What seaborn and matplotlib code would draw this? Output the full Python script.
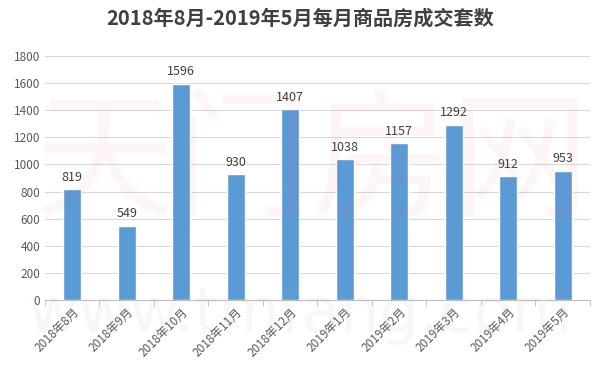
import matplotlib
matplotlib.use('Agg')
import matplotlib.pyplot as plt
import seaborn as sns
import pandas as pd

months = ['2018年8月', '2018年9月', '2018年10月', '2018年11月', '2018年12月',
          '2019年1月', '2019年2月', '2019年3月', '2019年4月', '2019年5月']
sales = [819, 549, 1596, 930, 1407, 1038, 1157, 1292, 912, 953]
yticks = [0, 200, 400, 600, 800, 1000, 1200, 1400, 1600, 1800]

sns.set_style('white')
plt.rcParams['font.family'] = ['Noto Sans CJK SC', 'DejaVu Sans']

df = pd.DataFrame({'month': months, 'sales': sales})

fig = plt.figure(figsize=(6, 3.8), dpi=100)
ax = fig.add_axes([0.075, 0.21, 0.908, 0.643])

# faint site watermarks behind the chart
fig.text(0.52, 0.56, '天门房网', fontsize=100, color='#e8413c', alpha=0.045,
         ha='center', va='center')
fig.text(0.5, 0.17, 'www.tmfang.com', fontsize=45, color='#999999', alpha=0.07,
         ha='center', va='center', family='DejaVu Sans')

sns.barplot(data=df, x='month', y='sales', color='#5b9bd5', saturation=1,
            width=0.33, ax=ax, zorder=3)

for i, v in enumerate(sales):
    ax.text(i, v + 40, str(v), ha='center', va='bottom', fontsize=9, color='#404040')

ax.set_ylim(0, 1800)
ax.set_yticks(yticks)
ax.yaxis.grid(True, color='#d9d9d9', linewidth=0.8, zorder=0)
ax.set_axisbelow(True)
ax.set_xlim(-0.5, len(months) - 0.5)
ax.set_xlabel('')
ax.set_ylabel('')

for s in ['top', 'right', 'left']:
    ax.spines[s].set_visible(False)
ax.spines['bottom'].set_color('#bfbfbf')

ax.set_xticks([i + 0.5 for i in range(-1, len(months))], minor=True)
ax.tick_params(axis='x', which='minor', length=4, color='#bfbfbf', bottom=True)
ax.tick_params(axis='x', which='major', length=0, labelsize=8.5, labelcolor='#595959')
ax.tick_params(axis='y', length=0, labelsize=8.5, labelcolor='#595959')
plt.setp(ax.get_xticklabels(), rotation=45, ha='right', rotation_mode='anchor')

fig.suptitle('2018年8月-2019年5月每月商品房成交套数', y=0.98, fontsize=14.5,
             fontweight='bold', color='#404040')

fig.savefig('out.png', dpi=100)
